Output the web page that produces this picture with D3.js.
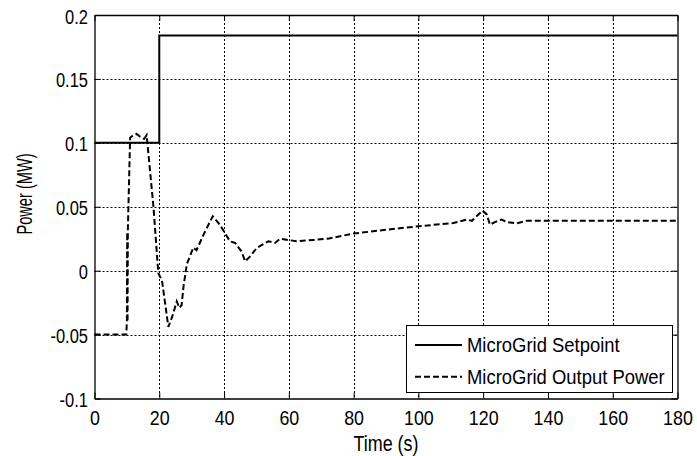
<!DOCTYPE html>
<html lang="en">
<head>
<meta charset="utf-8">
<title>MicroGrid Power</title>
<style type="text/css">
  body { margin: 0; background: #fff; }
  text { font-family: "Liberation Sans", Arial, sans-serif; fill: #000; }
</style>
</head>
<body>
<script src="https://cdn.jsdelivr.net/npm/d3@7/dist/d3.min.js"></script>
<script>

var w = 697;
var h = 456;

// setpoint step
var setTime = [0, 20, 20, 180];
var setPower = [0.1, 0.1, 0.184, 0.184];

var outTime = [0, 9.8, 10.0, 10.1, 10.2, 10.3, 11.0, 12, 13, 14, 15.3, 16.1, 18.2, 19.7, 20.3, 20.8, 21.5, 22.8, 24, 25.4, 26.2, 26.9, 27.5, 28.5, 30.5, 31.5, 34, 36.5, 38.7, 41.8, 43.4, 45.4, 46.5, 48, 50.1, 53.7, 55.7, 57.3, 59.8, 62.4, 67.6, 72, 79.9, 90, 100, 110.8, 114.9, 116.5, 119.8, 121.1, 122.1, 123.6, 125.7, 127.3, 130.3, 133.4, 140, 180];
var outPower = [-0.05, -0.05, -0.04, 0.03, -0.04, 0.032, 0.104, 0.106, 0.107, 0.105, 0.103, 0.106, 0.05, -0.002, -0.005, -0.007, -0.02, -0.044, -0.036, -0.024, -0.029, -0.027, -0.012, 0.005, 0.018, 0.016, 0.03, 0.0425, 0.036, 0.023, 0.0217, 0.015, 0.0073, 0.011, 0.0178, 0.023, 0.0217, 0.025, 0.024, 0.023, 0.024, 0.025, 0.029, 0.032, 0.0347, 0.0373, 0.040, 0.039, 0.047, 0.044, 0.036, 0.038, 0.040, 0.038, 0.037, 0.039, 0.039, 0.039];

var xTicks = [0, 20, 40, 60, 80, 100, 120, 140, 160, 180];
var yTicks = [-0.1, -0.05, 0, 0.05, 0.1, 0.15, 0.2];
var yTickLabels = ["-0.1", "-0.05", "0", "0.05", "0.1", "0.15", "0.2"];

var seriesNames = ["MicroGrid Setpoint", "MicroGrid Output Power"];

var x = d3.scaleLinear().domain([0, 180]).range([94.5, 677.5]);
var y = d3.scaleLinear().domain([-0.1, 0.2]).range([398.5, 15]);

var svg = d3.select("body")
        .append("svg")
        .attr("width", w)
        .attr("height", h);

// the original font is a narrow one, so squeeze the glyphs sideways
function squeeze(sel, ratio) {
    sel.each(function() {
        var len = this.getComputedTextLength();
        d3.select(this)
            .attr("textLength", len * ratio)
            .attr("lengthAdjust", "spacingAndGlyphs");
    });
}

// dotted grid
svg.selectAll("line.vgrid")
    .data(xTicks.slice(1, -1))
    .enter()
    .append("line")
    .attr("class", "vgrid")
    .attr("x1", function(d) { return Math.round(x(d)) + 0.5; })
    .attr("x2", function(d) { return Math.round(x(d)) + 0.5; })
    .attr("y1", y(0.2))
    .attr("y2", y(-0.1))
    .attr("stroke", "#000")
    .attr("stroke-width", 1)
    .attr("stroke-dasharray", "2,2");

svg.selectAll("line.hgrid")
    .data(yTicks.slice(1, -1))
    .enter()
    .append("line")
    .attr("class", "hgrid")
    .attr("y1", function(d) { return Math.round(y(d)) + 0.5; })
    .attr("y2", function(d) { return Math.round(y(d)) + 0.5; })
    .attr("x1", x(0))
    .attr("x2", x(180))
    .attr("stroke", "#000")
    .attr("stroke-width", 1)
    .attr("stroke-dasharray", "2,2");

// axes, ticks pointing in, on all four sides
var xBottom = d3.axisBottom(x).tickValues(xTicks).tickSizeInner(-6).tickSizeOuter(0);
var xTop = d3.axisTop(x).tickValues(xTicks).tickSizeInner(-6).tickSizeOuter(0).tickFormat("");
var yLeft = d3.axisLeft(y).tickValues(yTicks).tickSizeInner(-6).tickSizeOuter(0)
        .tickFormat(function(d, i) { return yTickLabels[i]; });
var yRight = d3.axisRight(y).tickValues(yTicks).tickSizeInner(-6).tickSizeOuter(0).tickFormat("");

var gx = svg.append("g").attr("transform", "translate(0," + y(-0.1) + ")").call(xBottom);
svg.append("g").attr("transform", "translate(0," + y(0.2) + ")").call(xTop);
var gy = svg.append("g").attr("transform", "translate(" + x(0) + ",0)").call(yLeft);
svg.append("g").attr("transform", "translate(" + x(180) + ",0)").call(yRight);

svg.selectAll(".domain").attr("stroke", "#000").attr("stroke-width", 1.3);
svg.selectAll(".tick line").attr("stroke", "#000");
svg.selectAll(".tick text").attr("font-family", null).attr("fill", "#000");

gx.selectAll(".tick text")
    .attr("font-size", 21)
    .attr("y", 26.5)
    .attr("dy", null);
squeeze(gx.selectAll(".tick text"), 0.85);

gy.selectAll(".tick text")
    .attr("font-size", 19.5)
    .attr("x", -6.5)
    .attr("dy", null)
    .attr("y", 8);
squeeze(gy.selectAll(".tick text"), 0.845);

// series
var setLine = d3.line()
    .x(function(d) { return x(setTime[d]); })
    .y(function(d) { return y(setPower[d]); });

var outLine = d3.line()
    .x(function(d) { return x(outTime[d]); })
    .y(function(d) { return y(outPower[d]); });

svg.append("path")
    .datum(d3.range(outTime.length))
    .attr("d", outLine)
    .attr("fill", "none")
    .attr("stroke", "#000")
    .attr("stroke-width", 2)
    .attr("stroke-dasharray", "6,3");

svg.append("path")
    .datum(d3.range(setTime.length))
    .attr("d", setLine)
    .attr("fill", "none")
    .attr("stroke", "#000")
    .attr("stroke-width", 2);

// axis labels
svg.append("text")
    .attr("x", x(90))
    .attr("y", 451)
    .attr("text-anchor", "middle")
    .attr("font-size", 22)
    .attr("textLength", 65)
    .attr("lengthAdjust", "spacingAndGlyphs")
    .text("Time (s)");

svg.append("text")
    .attr("transform", "translate(32,194) rotate(-90)")
    .attr("text-anchor", "middle")
    .attr("font-size", 22)
    .attr("textLength", 81)
    .attr("lengthAdjust", "spacingAndGlyphs")
    .text("Power (MW)");

// legend
var lg = svg.append("g");
lg.append("rect")
    .attr("x", 406.5)
    .attr("y", 325.5)
    .attr("width", 266)
    .attr("height", 67)
    .attr("fill", "#fff")
    .attr("stroke", "#000")
    .attr("stroke-width", 1);

var legendWidths = [152.7, 197.7];

seriesNames.forEach(function(name, i) {
    var ly = 345 + i * 31.7;
    lg.append("line")
        .attr("x1", 415).attr("x2", 462)
        .attr("y1", ly).attr("y2", ly)
        .attr("stroke", "#000")
        .attr("stroke-width", 2)
        .attr("stroke-dasharray", i == 1 ? "6,3" : null);
    lg.append("text")
        .attr("x", 467)
        .attr("y", ly + 7.3)
        .attr("font-size", 21)
        .attr("textLength", legendWidths[i])
        .attr("lengthAdjust", "spacingAndGlyphs")
        .text(name);
});

</script>
</body>
</html>
